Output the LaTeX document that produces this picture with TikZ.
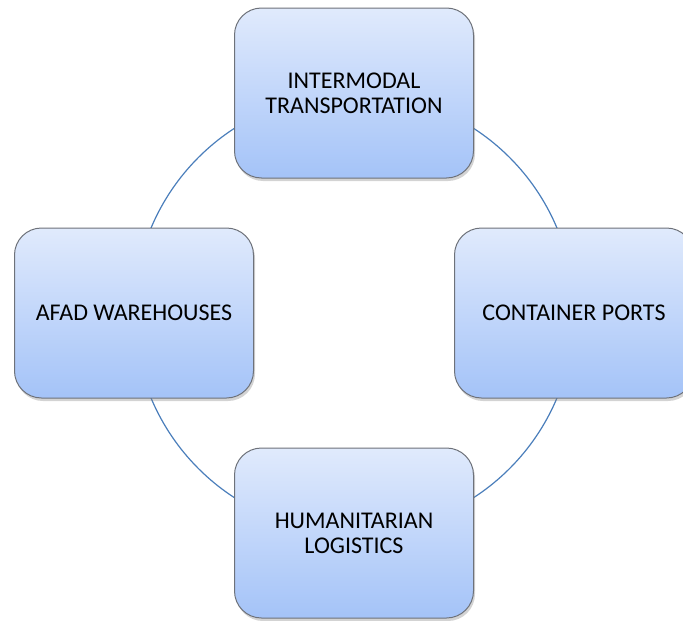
\documentclass[tikz,border=0pt]{standalone}
\usepackage{fontspec}
\setmainfont{Carlito}
\usetikzlibrary{shadows,backgrounds}

\definecolor{boxtop}{RGB}{224,234,252}
\definecolor{boxbottom}{RGB}{164,195,248}
\definecolor{boxline}{RGB}{110,114,122}
\definecolor{ringblue}{RGB}{74,126,187}

\tikzset{
	cyclebox/.style={rounded corners=27pt, draw=boxline, line width=1pt,
		top color=boxtop, bottom color=boxbottom,
		minimum width=239pt, minimum height=170pt, inner sep=0pt,
		align=center, font=\fontsize{24}{25}\selectfont,
		drop shadow={shadow xshift=1.5pt, shadow yshift=-3pt, opacity=0.35}},
	ring/.style={draw=ringblue, line width=1.2pt}
}

\begin{document}
\begin{tikzpicture}[x=1pt,y=1pt,yscale=-1,xscale=1]
		% Page size of the reference
		\useasboundingbox (0,0) rectangle (683,621);

		% The four boxes round the ring
		\node[cyclebox] (intermodal) at (354,93) {INTERMODAL\\TRANSPORTATION};
		\node[cyclebox] (ports) at (574,313) {CONTAINER PORTS};
		\node[cyclebox] (logistics) at (354,533) {HUMANITARIAN\\LOGISTICS};
		\node[cyclebox] (afad) at (134,313) {AFAD WAREHOUSES};

		% Ring arcs (radius 220), behind the boxes
		\begin{scope}[on background layer]
			\draw[ring] (intermodal.center) arc[start angle=270, end angle=180, radius=220];
			\draw[ring] (afad.center) arc[start angle=180, end angle=90, radius=220];
			\draw[ring] (logistics.center) arc[start angle=90, end angle=0, radius=220];
			\draw[ring] (ports.center) arc[start angle=0, end angle=-90, radius=220];
		\end{scope}
\end{tikzpicture}
\end{document}
